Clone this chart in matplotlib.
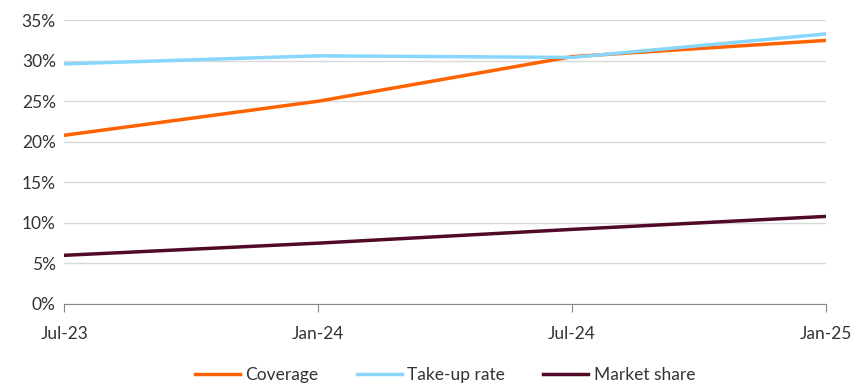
import matplotlib.pyplot as plt
from matplotlib.ticker import FuncFormatter

# Data
dates = ["Jul-23", "Jan-24", "Jul-24", "Jan-25"]
coverage = [20.8, 25.0, 30.5, 32.5]
take_up = [29.6, 30.6, 30.4, 33.3]
market_share = [6.0, 7.5, 9.2, 10.8]

plt.rcParams["font.family"] = ["Lato", "DejaVu Sans"]

fig = plt.figure(figsize=(8.56, 3.87), dpi=100)
ax = fig.add_axes([0.075, 0.2145, 0.89, 0.7335])

x = range(len(dates))
ax.plot(x, coverage, color="#FF6200", lw=2.5, label="Coverage")
ax.plot(x, take_up, color="#89D6FD", lw=2.5, label="Take-up rate")
ax.plot(x, market_share, color="#500A28", lw=2.5, label="Market share")

ax.set_xlim(0, len(dates) - 1)
ax.set_ylim(0, 35)
ax.set_yticks(range(0, 36, 5))
ax.yaxis.set_major_formatter(FuncFormatter(lambda v, _: f"{v:.0f}%"))
ax.set_xticks(list(x))
ax.set_xticklabels(dates)

# Gridlines and spines
ax.grid(axis="y", color="#D9D9D9", lw=1)
ax.set_axisbelow(True)
for side in ["top", "right", "left"]:
    ax.spines[side].set_visible(False)
ax.spines["bottom"].set_color("#888888")
ax.tick_params(axis="y", length=0, labelsize=12.5, labelcolor="#333333", pad=6)
ax.tick_params(axis="x", length=6, color="#888888", labelsize=12.5,
               labelcolor="#333333", pad=10)

ax.legend(loc="center", bbox_to_anchor=(0.5, -0.25), ncol=3,
          frameon=False, fontsize=12.5, handlelength=2.6, handletextpad=0.3,
          columnspacing=2.2, labelcolor="#333333")

fig.savefig("out.png", dpi=100)
